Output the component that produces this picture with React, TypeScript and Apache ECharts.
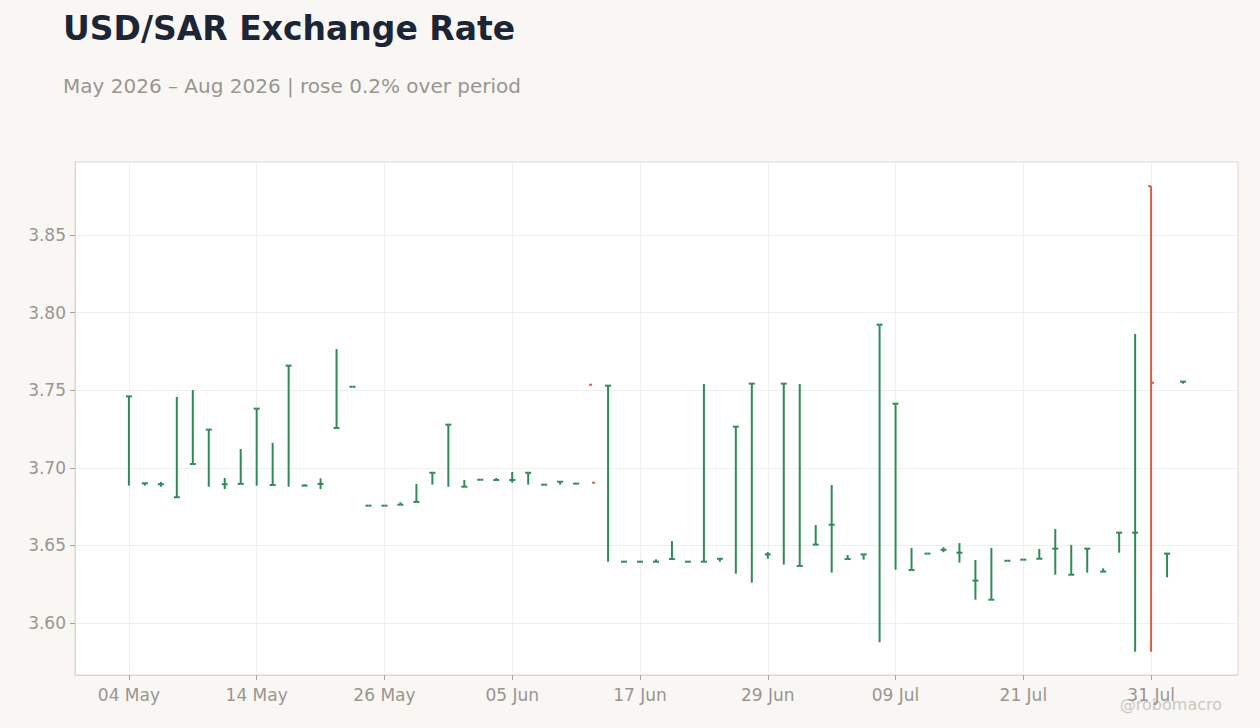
import React, { useEffect, useRef } from 'react';
import * as echarts from 'echarts';

const dates = [
  '04 May', '05 May', '06 May', '07 May', '08 May', '11 May', '12 May', '13 May', '14 May', '15 May',
  '18 May', '19 May', '20 May', '21 May', '22 May', '25 May', '26 May', '27 May', '28 May', '29 May',
  '01 Jun', '02 Jun', '03 Jun', '04 Jun', '05 Jun', '08 Jun', '09 Jun', '10 Jun', '11 Jun', '12 Jun',
  '15 Jun', '16 Jun', '17 Jun', '18 Jun', '19 Jun', '22 Jun', '23 Jun', '24 Jun', '25 Jun', '26 Jun',
  '29 Jun', '30 Jun', '01 Jul', '02 Jul', '03 Jul', '06 Jul', '07 Jul', '08 Jul', '09 Jul', '10 Jul',
  '13 Jul', '14 Jul', '15 Jul', '16 Jul', '17 Jul', '20 Jul', '21 Jul', '22 Jul', '23 Jul', '24 Jul',
  '27 Jul', '28 Jul', '29 Jul', '30 Jul', '31 Jul', '03 Aug', '04 Aug'
];

const opens = [
  3.746, 3.690, 3.6894, 3.681, 3.7024, 3.7246, 3.6894, 3.6896, 3.7381, 3.6889,
  3.7658, 3.6885, 3.6896, 3.7256, 3.7522, 3.6756, 3.6756, 3.6762, 3.678, 3.6968,
  3.7278, 3.6878, 3.6923, 3.6921, 3.6921, 3.6968, 3.6891, 3.6910, 3.6898, 3.7535,
  3.7529, 3.6395, 3.6395, 3.6395, 3.6412, 3.6395, 3.6395, 3.6414, 3.7265, 3.7542,
  3.6442, 3.7542, 3.6367, 3.6505, 3.6633, 3.6412, 3.6442, 3.7922, 3.7413, 3.6341,
  3.6447, 3.6472, 3.6453, 3.6273, 3.6150, 3.6401, 3.6408, 3.6414, 3.6479, 3.6311,
  3.6479, 3.6331, 3.6582, 3.6582, 3.8814, 3.6447, 3.7555
];

const highs: (number | null)[] = [
  3.746, 3.690, 3.6909, 3.7456, 3.7501, 3.7246, 3.6934, 3.7121, 3.7381, 3.7160,
  3.7658, 3.6894, 3.6932, 3.7765, 3.7522, 3.6756, 3.6756, 3.6778, 3.6896, 3.6968,
  3.7278, 3.6921, 3.6923, 3.6934, 3.6973, 3.6968, 3.6891, 3.6910, 3.6898, null,
  3.7529, 3.6395, 3.6395, 3.6410, 3.6528, 3.6395, 3.7540, 3.6414, 3.7265, 3.7542,
  3.6457, 3.7542, 3.7540, 3.6631, 3.6889, 3.6438, 3.6442, 3.7922, 3.7413, 3.6483,
  3.6447, 3.6488, 3.6515, 3.6406, 3.6483, 3.6401, 3.6408, 3.6477, 3.6606, 3.6503,
  3.6479, 3.6352, 3.6582, 3.7862, 3.8814, 3.6447, 3.7555
];

const lows: (number | null)[] = [
  3.6885, 3.6885, 3.6878, 3.681, 3.7024, 3.6878, 3.6863, 3.6896, 3.6885, 3.6889,
  3.6878, 3.6885, 3.6863, 3.7256, 3.7522, 3.6756, 3.6756, 3.6762, 3.678, 3.6891,
  3.6878, 3.6878, 3.6923, 3.6921, 3.6904, 3.6891, 3.6891, 3.6891, 3.6898, null,
  3.6395, 3.6395, 3.6395, 3.6395, 3.6412, 3.6395, 3.6395, 3.6395, 3.6318, 3.6260,
  3.6414, 3.6376, 3.6367, 3.6505, 3.6324, 3.6412, 3.6408, 3.5876, 3.6343, 3.6341,
  3.6447, 3.6456, 3.6389, 3.6150, 3.6150, 3.6401, 3.6408, 3.6414, 3.6311, 3.6311,
  3.6324, 3.6331, 3.6453, 3.5815, 3.5815, 3.6294, 3.7542
];

const closes = [
  3.746, 3.690, 3.6894, 3.681, 3.7024, 3.7246, 3.6894, 3.6896, 3.7381, 3.6889,
  3.7658, 3.6885, 3.6896, 3.7256, 3.7522, 3.6756, 3.6756, 3.6762, 3.678, 3.6968,
  3.7278, 3.6878, 3.6923, 3.6921, 3.6921, 3.6968, 3.6891, 3.6910, 3.6898, 3.6904,
  3.7529, 3.6395, 3.6395, 3.6395, 3.6412, 3.6395, 3.6395, 3.6414, 3.7265, 3.7542,
  3.6442, 3.7542, 3.6367, 3.6505, 3.6633, 3.6412, 3.6442, 3.7922, 3.7413, 3.6341,
  3.6447, 3.6472, 3.6453, 3.6273, 3.6150, 3.6401, 3.6408, 3.6414, 3.6479, 3.6311,
  3.6479, 3.6331, 3.6582, 3.6582, 3.7548, 3.6447, 3.7555
];

const dateTicks = [0, 8, 16, 24, 32, 40, 48, 56, 64];
const rateTicks = [3.6, 3.65, 3.7, 3.75, 3.8, 3.85];

const UP = '#2e8b57';
const DOWN = '#d0603f';
const LABEL = '#9a9590';
const EDGE = '#dcd8d1';
const FONT = "'DejaVu Sans', sans-serif";

export default function App() {
  const chartRef = useRef<HTMLDivElement>(null);

  useEffect(() => {
    if (!chartRef.current) return;
    const chart = echarts.init(chartRef.current, null, { renderer: 'svg' });

    const data = dates.map((_, i) => [
      i,
      opens[i],
      highs[i] == null ? '-' : highs[i],
      lows[i] == null ? '-' : lows[i],
      closes[i]
    ]);

    const option = {
      animation: false,
      backgroundColor: '#f8f7f4',
      textStyle: { fontFamily: FONT },
      graphic: [
        {
          type: 'text',
          left: 63,
          top: 12,
          style: {
            text: 'USD/SAR Exchange Rate',
            font: `bold 33px ${FONT}`,
            fill: '#1c2536'
          }
        },
        {
          type: 'text',
          left: 63,
          top: 76,
          style: {
            text: 'May 2026 – Aug 2026 | rose 0.2% over period',
            font: `20px ${FONT}`,
            fill: LABEL
          }
        },
        {
          type: 'text',
          right: 38,
          top: 696,
          style: {
            text: '@robomacro',
            font: `16px ${FONT}`,
            fill: '#cbc7c2'
          }
        }
      ],
      grid: {
        left: 75,
        right: 22,
        top: 162,
        bottom: 53,
        show: true,
        backgroundColor: '#ffffff',
        borderColor: EDGE,
        borderWidth: 1
      },
      xAxis: {
        type: 'value',
        min: -3.375,
        max: 69.44,
        axisLine: { show: true, onZero: false, lineStyle: { color: EDGE } },
        axisTick: {
          show: true,
          length: 5,
          customValues: dateTicks,
          lineStyle: { color: '#a8a39d' }
        },
        axisLabel: {
          customValues: dateTicks,
          color: LABEL,
          fontSize: 17,
          margin: 11,
          formatter: (v: number) => dates[Math.round(v)] ?? ''
        },
        splitLine: { show: true, lineStyle: { color: '#efefef', width: 1 } }
      },
      yAxis: {
        type: 'value',
        min: 3.5665,
        max: 3.897,
        axisLine: { show: true, onZero: false, lineStyle: { color: EDGE } },
        axisTick: {
          show: true,
          length: 5,
          customValues: rateTicks,
          lineStyle: { color: '#a8a39d' }
        },
        axisLabel: {
          customValues: rateTicks,
          color: LABEL,
          fontSize: 17,
          margin: 9,
          formatter: (v: number) => v.toFixed(2)
        },
        splitLine: { show: true, lineStyle: { color: '#efefef', width: 1 } }
      },
      series: [
        {
          type: 'custom',
          data,
          encode: { x: 0, y: [1, 2, 3, 4] },
          renderItem: (params: any, api: any) => {
            const idx = api.value(0);
            const o = api.value(1);
            const h = api.value(2);
            const l = api.value(3);
            const c = api.value(4);
            const color = c >= o ? UP : DOWN;
            const x = api.coord([idx, o])[0];
            const yo = api.coord([idx, o])[1];
            const yc = api.coord([idx, c])[1];
            const children: any[] = [];
            if (!isNaN(h) && !isNaN(l)) {
              const yh = api.coord([idx, h])[1];
              const yl = api.coord([idx, l])[1];
              if (Math.abs(yl - yh) > 0.5) {
                children.push({
                  type: 'line',
                  shape: { x1: x, y1: yh, x2: x, y2: yl },
                  style: { stroke: color, lineWidth: 2 }
                });
              }
            }
            children.push({
              type: 'line',
              shape: { x1: x - 3, y1: yo, x2: x, y2: yo },
              style: { stroke: color, lineWidth: 2 }
            });
            children.push({
              type: 'line',
              shape: { x1: x, y1: yc, x2: x + 3, y2: yc },
              style: { stroke: color, lineWidth: 2 }
            });
            return { type: 'group', children };
          }
        }
      ]
    };

    chart.setOption(option);
    return () => chart.dispose();
  }, []);

  return (
    <div
      ref={chartRef}
      style={{ position: 'fixed', left: 0, top: 0, width: 1260, height: 728 }}
    />
  );
}
